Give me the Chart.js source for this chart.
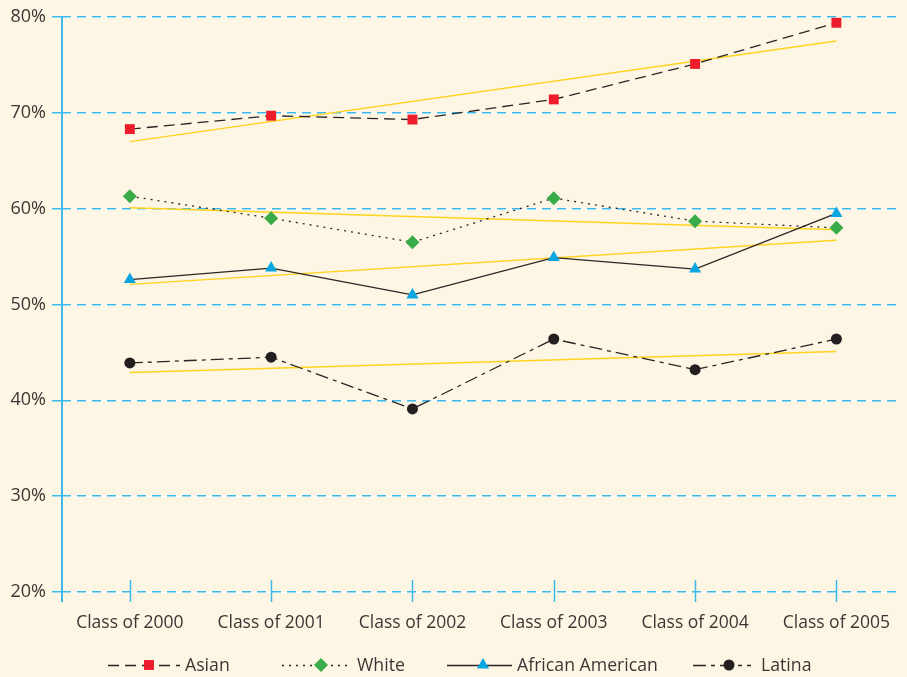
<!DOCTYPE html>
<html>
<head>
<meta charset="utf-8">
<script src="https://cdn.jsdelivr.net/npm/chart.js@4.4.0/dist/chart.umd.min.js"></script>
<style>
  html, body { margin: 0; padding: 0; background: #fdf6e4; }
  #wrap { width: 907px; height: 677px; }
</style>
</head>
<body>
<div id="wrap"><canvas id="chart" width="907" height="677"></canvas></div>
<script>
// Categories and values
const categories = ['Class of 2000', 'Class of 2001', 'Class of 2002', 'Class of 2003', 'Class of 2004', 'Class of 2005'];
const asian = [68.3, 69.7, 69.3, 71.4, 75.1, 79.4];
const white = [61.3, 59.0, 56.5, 61.1, 58.7, 58.0];
const africanAmerican = [52.6, 53.8, 51.0, 54.9, 53.7, 59.5];
const latina = [43.9, 44.5, 39.1, 46.4, 43.2, 46.4];

// yellow trend lines: value at Class of 2000 and at Class of 2005
const asianTrend = [67.0, 77.5];
const whiteTrend = [60.1, 57.8];
const africanAmericanTrend = [52.1, 56.7];
const latinaTrend = [42.9, 45.1];

const yTicks = [20, 30, 40, 50, 60, 70, 80];

const BLUE = '#3cb8ea';
const TEXT = '#3d3636';
const FONT = "'Open Sans', 'Noto Sans', sans-serif";

const toPoints = arr => arr.map((v, i) => ({ x: i, y: v }));
const trendPoints = arr => [{ x: 0, y: arr[0] }, { x: categories.length - 1, y: arr[1] }];

function series(label, values, color, style, radius, dash) {
  return {
    label: label,
    data: toPoints(values),
    borderColor: '#2b2626',
    borderWidth: 1.3,
    borderDash: dash,
    backgroundColor: color,
    pointBackgroundColor: color,
    pointBorderWidth: 0,
    pointStyle: style,
    pointRadius: radius,
    tension: 0,
    order: 1
  };
}

function trend(values) {
  return {
    label: '',
    data: trendPoints(values),
    borderColor: '#ffd21f',
    borderWidth: 1.4,
    pointRadius: 0,
    order: 2
  };
}

const mainSets = [
  series('Asian', asian, '#ec1c2b', 'rect', 7, [11, 6]),
  series('White', white, '#3aab49', 'rectRot', 7, [2, 5]),
  series('African American', africanAmerican, '#0aa6e2', 'triangle', 7, []),
  series('Latina', latina, '#231f20', 'circle', 5.5, [13, 5, 4, 5])
];

// where the legend samples sit
const legendItems = [
  { start: 108, marker: 149, end: 180, text: 185 },
  { start: 282, marker: 321, end: 348, text: 357 },
  { start: 447, marker: 483, end: 512, text: 517 },
  { start: 693, marker: 729, end: 751, text: 761 }
];

const decor = {
  id: 'decor',
  beforeDraw(chart) {
    const ctx = chart.ctx;
    const y = chart.scales.y;
    ctx.save();
    ctx.fillStyle = '#fdf6e4';
    ctx.fillRect(0, 0, chart.width, chart.height);
    // white line under each dashed grid line
    ctx.strokeStyle = '#ffffff';
    ctx.lineWidth = 1;
    yTicks.forEach(t => {
      const py = Math.round(y.getPixelForValue(t)) + 0.5;
      ctx.beginPath();
      ctx.moveTo(52, py);
      ctx.lineTo(chart.chartArea.right, py);
      ctx.stroke();
    });
    ctx.restore();
  },
  afterDraw(chart) {
    const ctx = chart.ctx;
    const area = chart.chartArea;
    const x = chart.scales.x;
    ctx.save();
    // y axis line
    ctx.strokeStyle = BLUE;
    ctx.lineWidth = 2;
    ctx.beginPath();
    ctx.moveTo(area.left, area.top);
    ctx.lineTo(area.left, area.bottom + 10);
    ctx.stroke();
    // category tick marks
    ctx.lineWidth = 1.5;
    categories.forEach((c, i) => {
      const px = Math.round(x.getPixelForValue(i)) + 0.5;
      ctx.beginPath();
      ctx.moveTo(px, area.bottom - 12);
      ctx.lineTo(px, area.bottom + 10);
      ctx.stroke();
    });
    // legend
    const ly = 665;
    mainSets.forEach((ds, i) => {
      const it = legendItems[i];
      ctx.strokeStyle = ds.borderColor;
      ctx.lineWidth = 1.3;
      ctx.setLineDash(ds.borderDash);
      ctx.beginPath();
      ctx.moveTo(it.start, ly + 0.5);
      ctx.lineTo(it.end, ly + 0.5);
      ctx.stroke();
      ctx.setLineDash([]);
      ctx.fillStyle = ds.pointBackgroundColor;
      Chart.helpers.drawPoint(ctx, { pointStyle: ds.pointStyle, radius: ds.pointRadius, rotation: 0, borderWidth: 0 }, it.marker, ly);
      ctx.fillStyle = TEXT;
      ctx.font = '17.7px ' + FONT;
      ctx.textBaseline = 'middle';
      ctx.textAlign = 'left';
      ctx.fillText(ds.label, it.text, ly + 1);
    });
    ctx.restore();
  }
};

new Chart(document.getElementById('chart'), {
  type: 'line',
  data: {
    datasets: mainSets.concat([
      trend(asianTrend),
      trend(whiteTrend),
      trend(africanAmericanTrend),
      trend(latinaTrend)
    ])
  },
  options: {
    responsive: false,
    animation: false,
    events: [],
    layout: { padding: { top: 17, right: 7, left: 0, bottom: 0 } },
    plugins: {
      legend: { display: false },
      tooltip: { enabled: false }
    },
    scales: {
      x: {
        type: 'linear',
        min: -0.48,
        max: 5.45,
        grid: { display: false },
        border: { display: false },
        afterBuildTicks: axis => {
          axis.ticks = categories.map((c, i) => ({ value: i }));
        },
        afterFit: scale => { scale.height = 85; },
        ticks: {
          autoSkip: false,
          maxRotation: 0,
          padding: 13,
          color: TEXT,
          font: { family: FONT, size: 17.5 },
          callback: v => categories[v] ?? ''
        }
      },
      y: {
        min: 20,
        max: 80,
        afterBuildTicks: axis => {
          axis.ticks = yTicks.map(v => ({ value: v }));
        },
        afterFit: scale => { scale.width = 62; },
        grid: {
          color: BLUE,
          lineWidth: 1.5,
          tickLength: 10
        },
        border: { display: false, dash: [9, 6] },
        ticks: {
          padding: 6,
          color: TEXT,
          font: { family: FONT, size: 18 },
          callback: v => v + '%'
        }
      }
    }
  },
  plugins: [decor]
});
</script>
</body>
</html>
